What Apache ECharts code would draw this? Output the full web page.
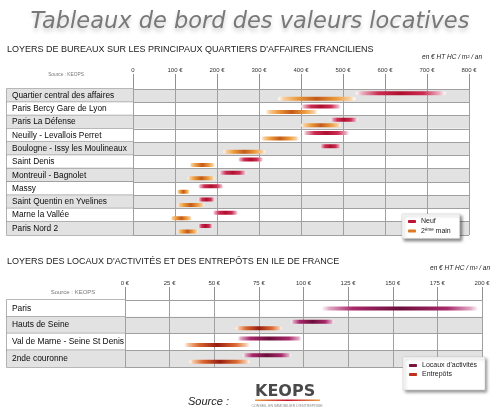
<!DOCTYPE html>
<html><head><meta charset="utf-8">
<script src="https://cdn.jsdelivr.net/npm/echarts@6/dist/echarts.min.js"></script>
<style>html,body{margin:0;padding:0;background:#fff}#c{width:500px;height:417px}</style>
</head><body><div id="c"></div>
<script>
// ---- Data: office rents (€ HT HC / m² / an) ----
var officeZones = ['Quartier central des affaires','Paris Bercy Gare de Lyon','Paris La Défense','Neuilly - Levallois Perret','Boulogne - Issy les Moulineaux','Saint Denis','Montreuil - Bagnolet','Massy','Saint Quentin en Yvelines','Marne la Vallée','Paris Nord 2'];
var neufMin   = [530, 400, 470, 405, 445, 250, 205, 155, 155, 190, 155];
var neufMax   = [745, 495, 535, 515, 495, 310, 270, 215, 195, 250, 190];
var secondMin = [345, 315, 400, 305, 215, 135, 130, 105, 105,  90, 105];
var secondMax = [530, 440, 495, 395, 315, 195, 195, 135, 170, 140, 155];
var officeTicks = [0, 100, 200, 300, 400, 500, 600, 700, 800];

// ---- Data: activity premises & warehouses ----
var industrialZones = ['Paris','Hauts de Seine','Val de Marne - Seine St Denis','2nde couronne'];
var locauxMin    = [110, 93, 63, 66];
var locauxMax    = [198, 117, 99, 93];
var entrepotsMin = [null, 62, 33, 36];
var entrepotsMax = [null, 88, 70, 70];
var industrialTicks = [0, 25, 50, 75, 100, 125, 150, 175, 200];

var chart = echarts.init(document.getElementById('c'), null, {renderer: 'canvas'});
var FONT = 'Liberation Sans';
var G1 = {left: 133, top: 89, width: 336, height: 146};
var G2 = {left: 125, top: 300, width: 357, height: 67};
var rowH1 = G1.height / officeZones.length;
var rowH2 = G2.height / industrialZones.length;

function grad(stops) {
  return new echarts.graphic.LinearGradient(0, 0, 1, 0, stops.map(function (s) { return {offset: s[0], color: s[1]}; }));
}
var STOPS = {
  neuf:   [[0,'rgba(255,255,255,0.9)'],[0.07,'#eab0c2'],[0.25,'#cc2c52'],[0.5,'#b0102e'],[0.75,'#cc2c52'],[0.93,'#eab0c2'],[1,'rgba(255,255,255,0.9)']],
  second: [[0,'rgba(255,255,255,0.9)'],[0.07,'#f8d0a0'],[0.25,'#ec9a3c'],[0.5,'#c45a18'],[0.75,'#ec9a3c'],[0.93,'#f8d0a0'],[1,'rgba(255,255,255,0.9)']],
  locaux: [[0,'rgba(255,255,255,0.9)'],[0.05,'#e0a8c4'],[0.2,'#a8286a'],[0.5,'#6c0e3a'],[0.8,'#a8286a'],[0.95,'#e0a8c4'],[1,'rgba(255,255,255,0.9)']],
  entrep: [[0,'rgba(255,255,255,0.9)'],[0.06,'#f6c8a8'],[0.22,'#dc6a30'],[0.5,'#981c10'],[0.78,'#dc6a30'],[0.94,'#f6c8a8'],[1,'rgba(255,255,255,0.9)']]
};

function barRender(stops, offsetFn) {
  return function (params, api) {
    var cat = api.value(0);
    var a = api.coord([api.value(1), cat]);
    var b = api.coord([api.value(2), cat]);
    var cy = a[1] + offsetFn(cat);
    return {type: 'rect', shape: {x: a[0], y: cy - 2, width: b[0] - a[0], height: 4, r: 2},
            style: {fill: grad(stops)}};
  };
}
function rows(mins, maxs) {
  var out = [];
  for (var i = 0; i < mins.length; i++) if (mins[i] != null) out.push([i, mins[i], maxs[i]]);
  return out;
}
function labelAxis(cats, G, rowH, fs, firstGray) {
  var common = {width: G.left - 7 - 5, height: rowH, lineHeight: rowH, padding: [0, 0, 0, 5],
                borderColor: '#a0a0a0', borderWidth: 0.8, fontSize: fs, color: '#0a0a0a', fontFamily: FONT};
  return {
    interval: 0, margin: G.left - 7, align: 'left',
    formatter: function (v, i) { return ((i % 2 === 0) === firstGray ? '{g|' : '{w|') + v + '}'; },
    rich: {g: Object.assign({backgroundColor: '#e2e2e2'}, common), w: Object.assign({backgroundColor: '#ffffff'}, common)}
  };
}

var option = {
  animation: false,
  backgroundColor: '#ffffff',
  grid: [
    {left: G1.left, top: G1.top, width: G1.width, height: G1.height},
    {left: G2.left, top: G2.top, width: G2.width, height: G2.height}
  ],
  xAxis: [
    {gridIndex: 0, type: 'value', position: 'top', min: officeTicks[0], max: officeTicks[officeTicks.length - 1], interval: officeTicks[1] - officeTicks[0],
     axisLine: {show: true, lineStyle: {color: '#a0a0a0'}},
     axisTick: {show: true, length: 15, lineStyle: {color: '#909090'}},
     axisLabel: {margin: 16, fontSize: 6, color: '#333', fontFamily: FONT, formatter: function (v) { return v === 0 ? '0' : v + ' €'; }},
     splitLine: {show: true, lineStyle: {color: '#a0a0a0'}}},
    {gridIndex: 1, type: 'value', position: 'top', min: industrialTicks[0], max: industrialTicks[industrialTicks.length - 1], interval: industrialTicks[1] - industrialTicks[0],
     axisLine: {show: true, lineStyle: {color: '#a0a0a0'}},
     axisTick: {show: true, length: 13, lineStyle: {color: '#909090'}},
     axisLabel: {margin: 14, fontSize: 6, color: '#333', fontFamily: FONT, formatter: function (v) { return v + ' €'; }},
     splitLine: {show: true, lineStyle: {color: '#a0a0a0'}}}
  ],
  yAxis: [
    {gridIndex: 0, type: 'category', data: officeZones, inverse: true,
     axisLine: {show: false}, axisTick: {show: false},
     splitLine: {show: true, interval: 0, lineStyle: {color: '#a0a0a0'}},
     splitArea: {show: true, interval: 0, areaStyle: {color: ['#e2e2e2', '#ffffff']}},
     axisLabel: labelAxis(officeZones, G1, rowH1, 8.3, true)},
    {gridIndex: 1, type: 'category', data: industrialZones, inverse: true,
     axisLine: {show: false}, axisTick: {show: false},
     splitLine: {show: true, interval: 0, lineStyle: {color: '#a0a0a0'}},
     splitArea: {show: true, interval: 0, areaStyle: {color: ['#ffffff', '#e2e2e2']}},
     axisLabel: labelAxis(industrialZones, G2, rowH2, 8.4, false)}
  ],
  legend: [
    {data: ['Neuf', '2ème main'], left: 402, top: 214, orient: 'vertical', itemGap: 2,
     itemWidth: 8, itemHeight: 3, icon: 'roundRect', padding: [4, 9, 4, 6],
     backgroundColor: '#fff', borderColor: '#c8c8c8', borderWidth: 0.5,
     shadowColor: 'rgba(0,0,0,0.45)', shadowBlur: 3, shadowOffsetX: 2, shadowOffsetY: 2,
     formatter: function (n) { return n === '2ème main' ? '{t|2}{s|ème}{t| main}' : '{t|' + n + '}'; },
     textStyle: {fontSize: 7, color: '#222', fontFamily: FONT,
       rich: {t: {fontSize: 7, color: '#222', fontFamily: FONT}, s: {fontSize: 4.5, color: '#222', fontFamily: FONT, verticalAlign: 'top', padding: [0, 0, 3, 0]}}}},
    {data: ['Locaux d\'activités', 'Entrepôts'], left: 403, top: 357, orient: 'vertical', itemGap: 2,
     itemWidth: 8, itemHeight: 3, icon: 'roundRect', padding: [5, 8, 12, 6],
     backgroundColor: '#fff', borderColor: '#c8c8c8', borderWidth: 0.5,
     shadowColor: 'rgba(0,0,0,0.45)', shadowBlur: 3, shadowOffsetX: 2, shadowOffsetY: 2,
     textStyle: {fontSize: 7, color: '#222', fontFamily: FONT}}
  ],
  series: [
    {type: 'custom', name: 'Neuf', xAxisIndex: 0, yAxisIndex: 0, z: 5, itemStyle: {color: '#c01438'},
     encode: {x: [1, 2], y: 0}, data: rows(neufMin, neufMax),
     renderItem: barRender(STOPS.neuf, function () { return -2.4; })},
    {type: 'custom', name: '2ème main', xAxisIndex: 0, yAxisIndex: 0, z: 5, itemStyle: {color: '#e07a22'},
     encode: {x: [1, 2], y: 0}, data: rows(secondMin, secondMax),
     renderItem: barRender(STOPS.second, function () { return 3.1; })},
    {type: 'custom', name: 'Locaux d\'activités', xAxisIndex: 1, yAxisIndex: 1, z: 5, itemStyle: {color: '#7a1242'},
     encode: {x: [1, 2], y: 0}, data: rows(locauxMin, locauxMax),
     renderItem: barRender(STOPS.locaux, function (c) { return entrepotsMin[c] == null ? 0 : -3.4; })},
    {type: 'custom', name: 'Entrepôts', xAxisIndex: 1, yAxisIndex: 1, z: 5, itemStyle: {color: '#c0301a'},
     encode: {x: [1, 2], y: 0}, data: rows(entrepotsMin, entrepotsMax),
     renderItem: barRender(STOPS.entrep, function () { return 3.2; })}
  ],
  graphic: [
    {type: 'text', left: 'center', top: 11, style: {text: 'Tableaux de bord des valeurs locatives', font: 'italic 22.5px "DejaVu Sans"', fill: '#787878',
      textShadowColor: 'rgba(0,0,0,0.22)', textShadowBlur: 4, textShadowOffsetY: 3}},
    {type: 'text', left: 7, top: 45, style: {text: 'LOYERS DE BUREAUX SUR LES PRINCIPAUX QUARTIERS D\'AFFAIRES FRANCILIENS', font: '9px "Liberation Sans"', fill: '#222'}},
    {type: 'text', right: 18, top: 54, style: {text: 'en € HT HC / m² / an', font: 'italic 6.5px "Liberation Sans"', fill: '#222'}},
    {type: 'text', x: 66, y: 75, style: {text: 'Source : KEOPS', font: '4.8px "Liberation Sans"', fill: '#777', align: 'center', verticalAlign: 'middle'}},
    {type: 'text', left: 7, top: 257, style: {text: 'LOYERS DES LOCAUX D\'ACTIVITÉS ET DES ENTREPÔTS EN ILE DE FRANCE', font: '9px "Liberation Sans"', fill: '#222'}},
    {type: 'text', right: 10, top: 265, style: {text: 'en € HT HC / m² / an', font: 'italic 6.5px "Liberation Sans"', fill: '#222'}},
    {type: 'text', x: 73, y: 292, style: {text: 'Source : KEOPS', font: '6px "Liberation Sans"', fill: '#777', align: 'center', verticalAlign: 'middle'}},
    {type: 'text', x: 188, y: 402, style: {text: 'Source :', font: 'italic 11px "Liberation Sans"', fill: '#222', verticalAlign: 'middle'}},
    {type: 'text', x: 255, y: 392, style: {text: 'KEOPS', font: 'bold 16px "DejaVu Sans"', fill: '#4a4a4a', verticalAlign: 'middle'}},
    {type: 'rect', shape: {x: 255, y: 399.5, width: 65, height: 1.5},
     style: {fill: new echarts.graphic.LinearGradient(0, 0, 1, 0, [{offset: 0, color: '#e8a040'}, {offset: 0.5, color: '#c8102e'}, {offset: 1, color: '#e8a040'}])}},
    {type: 'text', x: 287, y: 406, style: {text: 'CONSEIL EN IMMOBILIER D\'ENTREPRISE', font: '3.6px "Liberation Sans"', fill: '#888', align: 'center', verticalAlign: 'middle'}}
  ]
};
chart.setOption(option);
</script>
</body></html>
